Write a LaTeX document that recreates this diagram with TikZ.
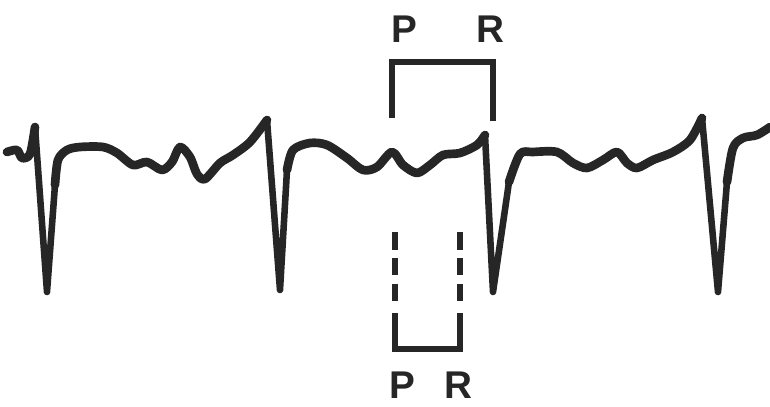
\documentclass[tikz,border=0pt]{standalone}
\usepackage{fontspec}
\setmainfont{Liberation Sans}
\usetikzlibrary{positioning}

\begin{document}
\begin{tikzpicture}[
      x=0.03cm, y=-0.03cm,
      wave/.style={line width=7.4pt, line join=round, line cap=round, color=black!85},
      spike/.style={line width=5.6pt, line join=round, line cap=round, color=black!85},
      bracket/.style={line width=5.8pt, color=black!85},
      dashbar/.style={line width=5.8pt, color=black!85, dash pattern=on 15pt off 7pt},
      lbl/.style={font=\fontsize{33}{36}\selectfont\bfseries, text=black!85, inner sep=0pt}
    ]
      \useasboundingbox (0,0) rectangle (770,406);
      % R peaks, S troughs and J points of the trace
      \coordinate (r1) at (35,127);  \coordinate (s1) at (47,292);  \coordinate (j1) at (55,185);
      \coordinate (r2) at (267,120); \coordinate (s2) at (280,290); \coordinate (j2) at (287,170);
      \coordinate (r3) at (485,135); \coordinate (s3) at (493,292); \coordinate (j3) at (509,182);
      \coordinate (r4) at (702,118); \coordinate (s4) at (718,292); \coordinate (j4) at (727,182);
      % baseline pieces
      \draw[wave] plot[smooth] coordinates {(7,152) (17,150) (22,158) (30,154) (r1)};
      \draw[wave] plot[smooth] coordinates {(j1) (58,160) (67,150) (80,147) (103,147) (117,153)
        (133,165) (147,162) (162,170) (172,162) (180,147) (190,157) (197,174) (205,179)
        (220,163) (233,155) (250,142) (r2)};
      \draw[wave] plot[smooth] coordinates {(j2) (293,150) (310,143) (327,145) (347,158)
        (363,170) (377,167) (392,152) (403,165) (417,173) (430,165) (443,155) (460,153)
        (477,145) (r3)};
      \draw[wave] plot[smooth] coordinates {(j3) (520,154) (533,152) (557,152) (573,163)
        (587,168) (603,160) (617,152) (627,163) (637,168) (653,160) (673,152) (690,140) (r4)};
      \draw[wave] plot[smooth] coordinates {(j4) (733,148) (743,138) (757,135) (770,127)};
      % QRS spikes
      \draw[spike] (r1) -- (s1) -- (j1);
      \draw[spike] (r2) -- (s2) -- (j2);
      \draw[spike] (r3) -- (s3) -- (j3);
      \draw[spike] (r4) -- (s4) -- (j4);

      % upper PR bracket
      \coordinate (ul) at (392,118); \coordinate (ur) at (493,121);
      \draw[bracket] (ul) |- (ur |- 0,62) -- (ur);
      \node[lbl] (topP) at (404,29) {P};
      \node[lbl] (topR) at (490,29) {R};

      % lower PR bracket
      \coordinate (ll) at (395,232); \coordinate (lr) at (460,232);
      \draw[dashbar] (ll) -- ++(0,74);
      \draw[dashbar] (lr) -- ++(0,74);
      \draw[bracket] (ll |- 0,313) |- (lr |- 0,349) -- (lr |- 0,313);
      \node[lbl] (botP) at (402,385) {P};
      \node[lbl] (botR) at (458,385) {R};
    \end{tikzpicture}
\end{document}
